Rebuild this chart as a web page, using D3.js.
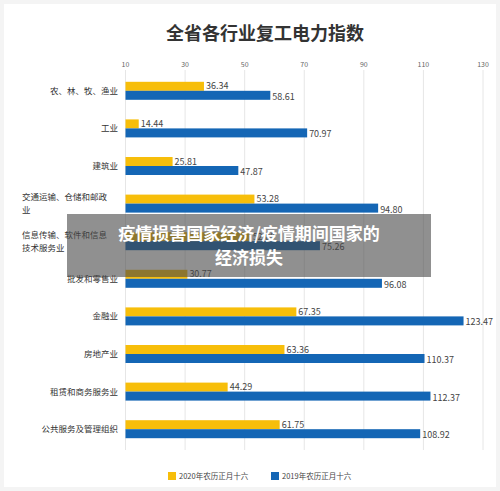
<!DOCTYPE html><html><head><meta charset="utf-8"><script src="https://cdn.jsdelivr.net/npm/d3@7"></script>
<style>body{margin:0;background:#fff;font-family:"Noto Sans CJK SC",sans-serif}</style></head><body><svg id="c" width="500" height="491"></svg>
<script>
const categories=["农、林、牧、渔业","工业","建筑业","交通运输、仓储和邮政业","信息传输、软件和信息技术服务业","批发和零售业","金融业","房地产业","租赁和商务服务业","公共服务及管理组织"];
const labelLines=[["农、林、牧、渔业"],["工业"],["建筑业"],["交通运输、仓储和邮政","业"],["信息传输、软件和信息","技术服务业"],["批发和零售业"],["金融业"],["房地产业"],["租赁和商务服务业"],["公共服务及管理组织"]];
const values2020=[36.34,14.44,25.81,53.28,52.0,30.77,67.35,63.36,44.29,61.75];
const values2019=[58.61,70.97,47.87,94.80,75.26,96.08,123.47,110.37,112.37,108.92];
const ticks=[10,30,50,70,90,110,130];
const seriesNames=["2020年农历正月十六","2019年农历正月十六"];
const colors=["#F7BE0A","#1466B5"];
const svg=d3.select("#c");
svg.append("rect").attr("width",500).attr("height",491).attr("fill","#f4f4f4");
svg.append("rect").attr("x",4).attr("y",4).attr("width",492).attr("height",483).attr("fill","#fff");
svg.append("text").attr("x",265).attr("y",40).attr("text-anchor","middle").attr("font-size",18).attr("font-weight","bold").attr("fill","#333").text("全省各行业复工电力指数");
const x=d3.scaleLinear().domain([10,130]).range([125.5,483]);
const y=d3.scaleBand().domain(categories).range([72,448]);
const g=svg.append("g");
g.selectAll(".grid").data(ticks).join("line").attr("x1",d=>x(d)).attr("x2",d=>x(d)).attr("y1",70).attr("y2",450).attr("stroke","#e6e6e6");
g.selectAll(".tk").data(ticks).join("text").attr("x",d=>x(d)).attr("y",67).attr("text-anchor","middle").attr("font-size",7).attr("fill","#666").text(d=>d);
const bh=9;
categories.forEach((c,i)=>{
 const cy=y(c)+y.bandwidth()/2;
 g.append("rect").attr("x",x(10)).attr("y",cy-bh).attr("width",x(values2020[i])-x(10)).attr("height",bh).attr("fill",colors[0]);
 g.append("rect").attr("x",x(10)).attr("y",cy).attr("width",x(values2019[i])-x(10)).attr("height",bh).attr("fill",colors[1]);
 g.append("text").attr("x",x(values2020[i])+2).attr("y",cy-1.5).attr("font-size",9).attr("fill","#444").text(values2020[i].toFixed(2));
 g.append("text").attr("x",x(values2019[i])+2).attr("y",cy+9).attr("font-size",9).attr("fill","#444").text(values2019[i].toFixed(2));
 const L=labelLines[i];
 L.forEach((t,j)=>g.append("text").attr("x",L.length>1?22:118).attr("text-anchor",L.length>1?"start":"end").attr("y",cy+3+(j-(L.length-1)/2)*13).attr("font-size",8.5).attr("fill","#333").text(t));
});
seriesNames.forEach((s,i)=>{
 const lx=168+i*103;
 svg.append("rect").attr("x",lx).attr("y",472).attr("width",8).attr("height",8).attr("fill",colors[i]);
 svg.append("text").attr("x",lx+11).attr("y",479).attr("font-size",7.5).attr("fill","#444").text(s);
});
svg.append("rect").attr("x",67).attr("y",214).attr("width",364).attr("height",63).attr("fill","rgba(70,70,70,0.6)");
svg.append("text").attr("x",249).attr("y",240).attr("text-anchor","middle").attr("font-size",17).attr("font-weight","bold").attr("fill","#fff").text("疫情损害国家经济/疫情期间国家的");
svg.append("text").attr("x",249).attr("y",264).attr("text-anchor","middle").attr("font-size",17).attr("font-weight","bold").attr("fill","#fff").text("经济损失");
</script></body></html>
